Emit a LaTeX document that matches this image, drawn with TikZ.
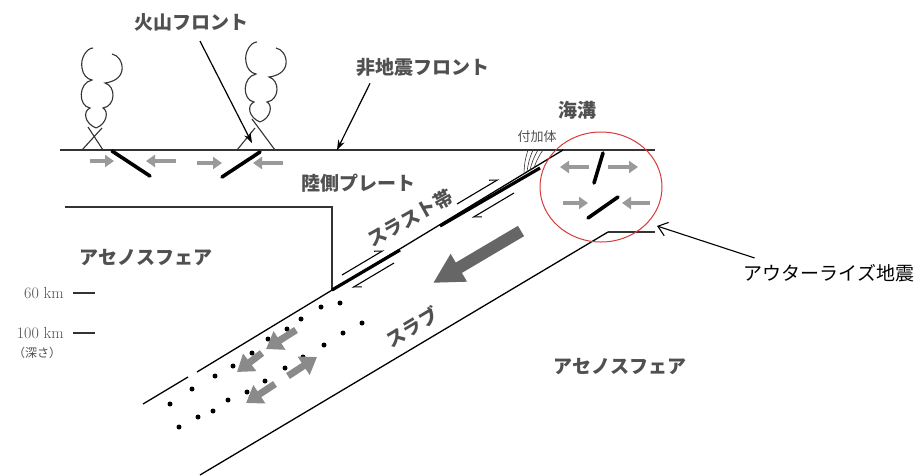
\documentclass[tikz,border=0pt]{standalone}
\usepackage{fontspec}
\newfontfamily\jp{Noto Sans CJK JP}
\usetikzlibrary{arrows.meta,shapes.geometric}
\definecolor{labelc}{HTML}{505050}
\definecolor{linec}{HTML}{333333}
\definecolor{stressgray}{HTML}{9A9A9A}
\definecolor{slabgray}{HTML}{8A8A8A}
\definecolor{flowgray}{HTML}{666666}
\definecolor{rimred}{HTML}{D83A3A}
\tikzset{
  lbl/.style={text=labelc, inner sep=0pt, font=\jp\bfseries\fontsize{19}{19}\selectfont},
  smalllbl/.style={text=labelc, inner sep=0pt, font=\jp\fontsize{13}{13}\selectfont},
  depthlbl/.style={text=labelc, inner sep=0pt, font=\fontsize{16}{16}\selectfont},
  plate/.style={draw=linec, line width=1.3pt},
  slabline/.style={draw=black, line width=1.3pt},
  stress/.style={draw=stressgray, line width=3.5pt, -{Triangle[length=9pt,width=12pt]}},
  fault/.style={draw=black, line width=3.6pt, line cap=round},
  slabarrow/.style={draw=slabgray, line width=7pt, -{Triangle[length=16pt,width=21pt]}},
  thrust/.style={draw=black, line width=3.2pt},
  shear/.style={draw=black, line width=1.1pt, -{Straight Barb[left,length=7pt,width=8pt]}},
  pointer/.style={draw=black, line width=1.2pt, -{Stealth[length=10pt,width=7pt]}},
  quake/.style={circle, fill=black, inner sep=0pt, minimum size=5pt},
  plume/.pic={
    \draw[linec, line width=1.1pt]
      (-3,-80) .. controls (-9,-80) and (-16,-70) .. (-14,-60)
               .. controls (-13,-53) and (-9,-49) .. (-4,-48)
               .. controls (-18,-45) and (-18,-22) .. (-6,-20)
               .. controls (-13,-17) and (-12,-5) .. (0,0);
    \draw[linec, line width=1.1pt]
      (16,-74) .. controls (22,-73) and (27,-66) .. (26,-58)
               .. controls (25,-50) and (17,-46) .. (9,-45)
               .. controls (20,-42) and (20,-22) .. (7,-20)
               .. controls (13,-17) and (11,-4) .. (0,0);
  }
}
\begin{document}
\begin{tikzpicture}[x=1pt,y=-1pt]
\useasboundingbox[fill=white] (0,0) rectangle (918,475);

% ---- key points of the cross-section ----
\coordinate (surfW) at (60,150);
\coordinate (surfE) at (655,150);
\coordinate (trench) at (563,150);
\coordinate (litW) at (65,207);
\coordinate (litCorner) at (332,207);
\coordinate (litBase) at (332,290);
\coordinate (slabGapA) at (197,372);
\coordinate (slabGapB) at (188,377);
\coordinate (slabTipUp) at (143,404);
\coordinate (riseKnee) at (608,232);
\coordinate (riseEnd) at (655,232);
\coordinate (slabBottom) at (200,475);

% surface and overriding plate
\draw[plate] (surfW) -- (surfE);
\draw[plate] (litW) -- (litCorner) -- (litBase);

% slab boundaries
\draw[slabline] (trench) -- (slabGapA);
\draw[slabline] (slabGapB) -- (slabTipUp);
\draw[slabline] (slabBottom) -- (riseKnee);
\draw[draw=linec, line width=1.3pt] (riseKnee) -- (riseEnd);

% accretionary wedge
\coordinate (w1) at (524,174); \coordinate (s1) at (528,150);
\coordinate (w2) at (527,172); \coordinate (s2) at (533,150);
\coordinate (w3) at (530,170); \coordinate (s3) at (538,150);
\coordinate (w4) at (534,168); \coordinate (s4) at (543,150);
\foreach \i in {1,...,4}
  \draw[linec, line width=0.6pt] (w\i) to[bend left=8] (s\i);

% thrust zone
\coordinate (tA1) at (332,290); \coordinate (tA2) at (400,250);
\coordinate (tB1) at (440,226); \coordinate (tB2) at (540,168);
\draw[thrust] (tA1) -- (tA2);
\draw[thrust] (tB1) -- (tB2);
\coordinate (hA1) at (342,275); \coordinate (hA2) at (384,250);
\coordinate (hA3) at (394,263); \coordinate (hA4) at (352,288);
\coordinate (hB1) at (457,204); \coordinate (hB2) at (499,179);
\coordinate (hB3) at (514,193); \coordinate (hB4) at (472,218);
\draw[shear] (hA1) -- (hA2);
\draw[shear] (hA3) -- (hA4);
\draw[shear] (hB1) -- (hB2);
\draw[shear] (hB3) -- (hB4);

% plate motion
\coordinate (flowTail) at (521,231);
\coordinate (flowHead) at (433,283);
\draw[draw=flowgray, line width=12pt, -{Triangle[length=30pt,width=30pt]}] (flowTail) -- (flowHead);

% volcanoes
\pic at (96,128) {plume};
\pic at (260,122) {plume};
\coordinate (v1a) at (82,150); \coordinate (v1b) at (102,128);
\coordinate (v1c) at (103,150); \coordinate (v1d) at (88,127);
\draw[linec, line width=1.1pt] (v1a) -- (v1b) (v1c) -- (v1d);
\coordinate (v2a) at (237,150); \coordinate (v2b) at (255,128);
\coordinate (v2c) at (275,150); \coordinate (v2d) at (252,119);
\draw[linec, line width=1.1pt] (v2a) -- (v2b) (v2c) -- (v2d);

% crustal faults and stress arrows under the arc
\coordinate (f1a) at (112,151); \coordinate (f1b) at (150,176);
\coordinate (f2a) at (222,177); \coordinate (f2b) at (260,152);
\draw[fault] (f1a) -- (f1b);
\draw[fault] (f2a) -- (f2b);
\coordinate (p1) at (90,161);  \coordinate (q1) at (114,161);
\coordinate (p2) at (176,161); \coordinate (q2) at (146,161);
\coordinate (p3) at (197,163); \coordinate (q3) at (222,163);
\coordinate (p4) at (283,163); \coordinate (q4) at (253,163);
\foreach \i in {1,...,4} \draw[stress] (p\i) -- (q\i);

% outer-rise region
\node[draw=rimred, line width=1pt, ellipse, minimum width=122pt, minimum height=110pt, inner sep=0pt] (rise) at (601,187) {};
\coordinate (o1a) at (603,153); \coordinate (o1b) at (594,183);
\coordinate (o2a) at (588,218); \coordinate (o2b) at (618,197);
\draw[fault] (o1a) -- (o1b);
\draw[fault] (o2a) -- (o2b);
\coordinate (r1) at (589,167); \coordinate (t1) at (560,167);
\coordinate (r2) at (608,167); \coordinate (t2) at (638,167);
\coordinate (r3) at (563,203); \coordinate (t3) at (588,203);
\coordinate (r4) at (650,203); \coordinate (t4) at (622,203);
\foreach \i in {1,...,4} \draw[stress] (r\i) -- (t\i);

% intraslab seismicity
\foreach \pt [count=\k] in {(340,303),(321,307),(301,319),(287,329),(268,339),(252,353),(233,366),(215,376),(192,389),(170,404),
  (179,427),(198,417),(213,411),(228,400),(247,392),(265,381),(285,368),(303,357),(324,345),(343,333),(362,323)}
  \node[quake] (eq\k) at \pt {};

% intraslab stress arrows
\coordinate (a1) at (296,330); \coordinate (b1) at (266,349);
\coordinate (a2) at (262,353); \coordinate (b2) at (237,372);
\coordinate (a3) at (275,384); \coordinate (b3) at (246,403);
\coordinate (a4) at (288,376); \coordinate (b4) at (317,357);
\foreach \i in {1,...,4} \draw[slabarrow] (a\i) -- (b\i);

% depth scale
\coordinate (d60a) at (73,293);  \coordinate (d60b) at (95,293);
\coordinate (d100a) at (73,333); \coordinate (d100b) at (95,333);
\draw[linec, line width=2.2pt] (d60a) -- (d60b);
\draw[linec, line width=2.2pt] (d100a) -- (d100b);
\node[depthlbl, anchor=east] (km60) at (64,293) {60 km};
\node[depthlbl, anchor=east] (km100) at (64,333) {100 km};
\node[text=labelc, inner sep=0pt, font=\jp\fontsize{12}{12}\selectfont] (depthword) at (37,353) {（深さ）};

% labels
\node[lbl] (volcfront) at (191,22) {火山フロント};
\node[lbl] (aseisfront) at (423,67) {非地震フロント};
\node[lbl] (trenchlbl) at (577,110) {海溝};
\node[smalllbl] (wedge) at (537,137) {付加体};
\node[lbl] (landplate) at (358,183) {陸側プレート};
\node[lbl, rotate=29] (thrustlbl) at (410,218) {スラスト帯};
\node[lbl] (astheno1) at (146,258) {アセノスフェア};
\node[lbl] (astheno2) at (620,367) {アセノスフェア};
\node[lbl, rotate=31] (slablbl) at (412,327) {スラブ};
\node[inner sep=0pt, font=\jp\fontsize{19}{19}\selectfont] (outerrise) at (829,273) {アウターライズ地震};

% pointers
\coordinate (vfTip) at (252,143);
\coordinate (afTip) at (337,150);
\coordinate (orTip) at (657,226);
\draw[pointer] (volcfront.south) ++(9,10) -- (vfTip);
\draw[pointer] (aseisfront.south) ++(-53,7) -- (afTip);
\draw[line width=1.1pt, -{Straight Barb[length=9pt,width=14pt]}] (outerrise.north west) ++(11,-6) -- (orTip);
\end{tikzpicture}
\end{document}
